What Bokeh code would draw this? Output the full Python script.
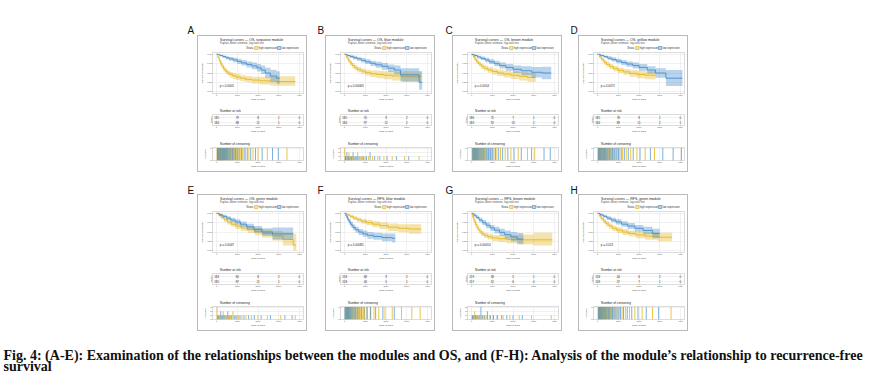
from bokeh.plotting import figure
from bokeh.layouts import column, row
from bokeh.models import Spacer, Range1d, Label, NumeralTickFormatter, FixedTicker
from bokeh.embed import file_html
from bokeh.resources import INLINE
from bokeh.core.properties import value

# ---------------- data ----------------
LETTERS_TOP = ["A", "B", "C", "D"]
LETTERS_BOT = ["E", "F", "G", "H"]
GROUPS = ["high expression", "low expression"]
TIME_TICKS = [0, 1000, 2000, 3000, 4000]
SURV_TICKS = [0, 0.25, 0.5, 0.75, 1.0]
TITLES = ["Survival curves \u2014 OS, turquoise module",
          "Survival curves \u2014 OS, blue module",
          "Survival curves \u2014 OS, brown module",
          "Survival curves \u2014 OS, yellow module",
          "Survival curves \u2014 OS, green module",
          "Survival curves \u2014 RFS, blue module",
          "Survival curves \u2014 RFS, brown module",
          "Survival curves \u2014 RFS, green module"]
SUBTITLE = "Kaplan\u2013Meier estimate, log-rank test"
PVALS = ["p < 0.0001", "p = 0.00063", "p = 0.0014", "p = 0.0071",
         "p = 0.0047", "p = 0.00085", "p = 0.00014", "p = 0.021"]
CAPTION_1 = ("Fig. 4: (A-E): Examination of the relationships between the modules and OS, "
             "and (F-H): Analysis of the module\u2019s relationship to recurrence-free")
CAPTION_2 = "survival"

A_hi_t = [0, 60, 120, 180, 250, 330, 420, 520, 640, 780, 950, 1150, 1400, 1700, 2100, 2600, 3800]
A_hi_s = [1.00, 0.92, 0.84, 0.76, 0.68, 0.61, 0.55, 0.50, 0.46, 0.42, 0.39, 0.36, 0.33, 0.31, 0.29, 0.27, 0.27]
A_hi_l = [1.00, 0.88, 0.79, 0.70, 0.62, 0.54, 0.48, 0.43, 0.38, 0.34, 0.31, 0.28, 0.25, 0.22, 0.19, 0.16, 0.16]
A_hi_u = [1.00, 0.96, 0.90, 0.82, 0.75, 0.68, 0.62, 0.57, 0.53, 0.50, 0.47, 0.44, 0.42, 0.40, 0.40, 0.41, 0.41]
A_lo_t = [0, 150, 300, 450, 600, 800, 1000, 1200, 1450, 1700, 1950, 2150, 2350, 2600, 2900, 3050]
A_lo_s = [1.00, 0.97, 0.94, 0.91, 0.88, 0.85, 0.81, 0.77, 0.73, 0.69, 0.64, 0.58, 0.50, 0.42, 0.36, 0.36]
A_lo_l = [1.00, 0.94, 0.90, 0.86, 0.83, 0.79, 0.74, 0.70, 0.65, 0.60, 0.54, 0.47, 0.37, 0.28, 0.21, 0.21]
A_lo_u = [1.00, 0.99, 0.97, 0.95, 0.93, 0.91, 0.88, 0.85, 0.81, 0.78, 0.74, 0.70, 0.64, 0.59, 0.55, 0.55]

B_hi_t = [0, 80, 170, 260, 360, 480, 620, 800, 1000, 1250, 1550, 1900, 2300, 2800, 3700]
B_hi_s = [1.00, 0.92, 0.84, 0.77, 0.70, 0.64, 0.59, 0.55, 0.51, 0.48, 0.46, 0.44, 0.42, 0.40, 0.40]
B_hi_l = [1.00, 0.88, 0.79, 0.71, 0.63, 0.57, 0.52, 0.47, 0.43, 0.39, 0.36, 0.33, 0.30, 0.26, 0.26]
B_hi_u = [1.00, 0.96, 0.90, 0.83, 0.77, 0.71, 0.66, 0.62, 0.59, 0.57, 0.56, 0.55, 0.54, 0.55, 0.55]
B_lo_t = [0, 120, 260, 420, 600, 800, 1000, 1250, 1500, 1800, 2100, 2400, 2700, 3600, 3750]
B_lo_s = [1.00, 0.97, 0.94, 0.91, 0.88, 0.84, 0.80, 0.76, 0.72, 0.68, 0.63, 0.58, 0.45, 0.25, 0.25]
B_lo_l = [1.00, 0.94, 0.90, 0.86, 0.83, 0.78, 0.74, 0.69, 0.64, 0.59, 0.53, 0.46, 0.27, 0.05, 0.05]
B_lo_u = [1.00, 0.99, 0.98, 0.96, 0.93, 0.90, 0.87, 0.83, 0.80, 0.77, 0.73, 0.70, 0.63, 0.55, 0.55]

C_hi_t = [0, 70, 150, 240, 340, 460, 600, 780, 1000, 1250, 1550, 1900, 2300, 2700, 3100]
C_hi_s = [1.00, 0.94, 0.87, 0.80, 0.74, 0.68, 0.63, 0.58, 0.54, 0.50, 0.47, 0.44, 0.41, 0.38, 0.38]
C_hi_l = [1.00, 0.90, 0.82, 0.74, 0.68, 0.61, 0.56, 0.51, 0.46, 0.42, 0.38, 0.34, 0.30, 0.26, 0.26]
C_hi_u = [1.00, 0.98, 0.92, 0.86, 0.80, 0.75, 0.70, 0.66, 0.62, 0.59, 0.56, 0.54, 0.52, 0.50, 0.50]
C_lo_t = [0, 130, 280, 450, 650, 850, 1100, 1350, 1650, 2000, 2400, 2900, 3400, 3850]
C_lo_s = [1.00, 0.97, 0.93, 0.89, 0.85, 0.80, 0.75, 0.70, 0.65, 0.60, 0.56, 0.52, 0.50, 0.50]
C_lo_l = [1.00, 0.94, 0.89, 0.84, 0.79, 0.74, 0.68, 0.62, 0.56, 0.50, 0.44, 0.38, 0.33, 0.33]
C_lo_u = [1.00, 0.99, 0.97, 0.94, 0.91, 0.87, 0.83, 0.78, 0.74, 0.70, 0.68, 0.66, 0.67, 0.67]

D_hi_t = [0, 90, 190, 300, 430, 580, 760, 980, 1250, 1550, 1900, 2300, 2800]
D_hi_s = [1.00, 0.93, 0.86, 0.79, 0.73, 0.67, 0.62, 0.57, 0.53, 0.49, 0.46, 0.44, 0.44]
D_hi_l = [1.00, 0.89, 0.81, 0.73, 0.66, 0.60, 0.55, 0.50, 0.45, 0.40, 0.36, 0.33, 0.33]
D_hi_u = [1.00, 0.97, 0.91, 0.85, 0.80, 0.74, 0.69, 0.64, 0.61, 0.58, 0.56, 0.55, 0.55]
D_lo_t = [0, 140, 300, 480, 680, 900, 1150, 1400, 1700, 2000, 2400, 2800, 3300, 4100]
D_lo_s = [1.00, 0.97, 0.94, 0.90, 0.86, 0.82, 0.78, 0.74, 0.70, 0.65, 0.58, 0.50, 0.36, 0.36]
D_lo_l = [1.00, 0.94, 0.90, 0.85, 0.81, 0.76, 0.71, 0.67, 0.62, 0.56, 0.48, 0.37, 0.15, 0.15]
D_lo_u = [1.00, 0.99, 0.97, 0.95, 0.92, 0.88, 0.85, 0.81, 0.78, 0.74, 0.68, 0.63, 0.58, 0.58]

E_hi_t = [0, 100, 220, 360, 520, 700, 920, 1180, 1500, 1850, 2200, 2700, 3200, 3700, 3850]
E_hi_s = [1.00, 0.95, 0.89, 0.83, 0.77, 0.71, 0.66, 0.61, 0.56, 0.51, 0.46, 0.40, 0.30, 0.15, 0.15]
E_hi_l = [1.00, 0.91, 0.84, 0.77, 0.70, 0.64, 0.58, 0.53, 0.47, 0.41, 0.35, 0.27, 0.14, 0.00, 0.00]
E_hi_u = [1.00, 0.99, 0.94, 0.89, 0.83, 0.78, 0.73, 0.69, 0.65, 0.61, 0.57, 0.53, 0.48, 0.45, 0.45]
E_lo_t = [0, 140, 300, 480, 680, 900, 1150, 1450, 1800, 2200, 2700, 3700]
E_lo_s = [1.00, 0.96, 0.92, 0.87, 0.82, 0.77, 0.71, 0.64, 0.57, 0.50, 0.45, 0.45]
E_lo_l = [1.00, 0.93, 0.88, 0.82, 0.76, 0.70, 0.64, 0.56, 0.48, 0.40, 0.30, 0.30]
E_lo_u = [1.00, 0.99, 0.96, 0.92, 0.88, 0.84, 0.78, 0.72, 0.66, 0.60, 0.62, 0.62]

F_hi_t = [0, 120, 260, 420, 600, 800, 1050, 1350, 1700, 2100, 2600, 3100, 3700]
F_hi_s = [1.00, 0.96, 0.92, 0.87, 0.83, 0.79, 0.75, 0.71, 0.67, 0.63, 0.60, 0.58, 0.58]
F_hi_l = [1.00, 0.93, 0.87, 0.82, 0.77, 0.72, 0.68, 0.63, 0.58, 0.53, 0.49, 0.45, 0.45]
F_hi_u = [1.00, 0.99, 0.96, 0.92, 0.89, 0.85, 0.82, 0.79, 0.76, 0.73, 0.71, 0.71, 0.71]
F_lo_t = [0, 60, 130, 210, 300, 400, 520, 680, 880, 1100, 1400, 1800, 2300, 2450]
F_lo_s = [1.00, 0.93, 0.85, 0.77, 0.69, 0.62, 0.56, 0.50, 0.45, 0.41, 0.38, 0.35, 0.33, 0.33]
F_lo_l = [1.00, 0.88, 0.79, 0.70, 0.62, 0.55, 0.48, 0.42, 0.37, 0.32, 0.29, 0.25, 0.22, 0.22]
F_lo_u = [1.00, 0.97, 0.91, 0.84, 0.77, 0.70, 0.64, 0.58, 0.54, 0.50, 0.48, 0.46, 0.46, 0.46]

G_hi_t = [0, 50, 110, 180, 260, 350, 460, 600, 780, 1000, 1300, 1700, 2300, 3000, 3900]
G_hi_s = [1.00, 0.90, 0.80, 0.70, 0.61, 0.53, 0.46, 0.41, 0.37, 0.34, 0.32, 0.30, 0.29, 0.29, 0.29]
G_hi_l = [1.00, 0.85, 0.74, 0.63, 0.54, 0.46, 0.39, 0.34, 0.30, 0.26, 0.23, 0.20, 0.17, 0.14, 0.14]
G_hi_u = [1.00, 0.95, 0.86, 0.77, 0.68, 0.60, 0.53, 0.48, 0.45, 0.42, 0.41, 0.41, 0.43, 0.48, 0.48]
G_lo_t = [0, 100, 220, 360, 520, 700, 900, 1100, 1350, 1600, 1900, 2200, 2500]
G_lo_s = [1.00, 0.95, 0.89, 0.82, 0.75, 0.68, 0.61, 0.55, 0.49, 0.43, 0.37, 0.31, 0.31]
G_lo_l = [1.00, 0.91, 0.84, 0.76, 0.68, 0.60, 0.53, 0.46, 0.39, 0.32, 0.25, 0.17, 0.17]
G_lo_u = [1.00, 0.99, 0.94, 0.88, 0.82, 0.76, 0.69, 0.64, 0.59, 0.54, 0.50, 0.47, 0.47]

H_hi_t = [0, 80, 170, 280, 400, 550, 720, 920, 1200, 1500, 1850, 2300, 2900, 3600]
H_hi_s = [1.00, 0.93, 0.86, 0.79, 0.72, 0.66, 0.60, 0.55, 0.50, 0.46, 0.42, 0.39, 0.36, 0.36]
H_hi_l = [1.00, 0.89, 0.81, 0.73, 0.65, 0.59, 0.53, 0.47, 0.42, 0.38, 0.33, 0.29, 0.25, 0.25]
H_hi_u = [1.00, 0.97, 0.91, 0.85, 0.79, 0.73, 0.67, 0.62, 0.58, 0.54, 0.51, 0.49, 0.48, 0.48]
H_lo_t = [0, 130, 280, 450, 650, 880, 1150, 1450, 1800, 2200, 2650, 3000]
H_lo_s = [1.00, 0.96, 0.92, 0.87, 0.82, 0.77, 0.71, 0.66, 0.60, 0.54, 0.46, 0.46]
H_lo_l = [1.00, 0.93, 0.88, 0.82, 0.76, 0.70, 0.64, 0.58, 0.51, 0.44, 0.33, 0.33]
H_lo_u = [1.00, 0.99, 0.96, 0.92, 0.88, 0.84, 0.79, 0.74, 0.69, 0.64, 0.59, 0.59]

# number at risk at 0, 1000, 2000, 3000, 4000 days
A_risk_hi = [185, 79, 8, 1, 0]
A_risk_lo = [184, 88, 11, 1, 0]
B_risk_hi = [185, 70, 9, 2, 0]
B_risk_lo = [184, 97, 12, 2, 0]
C_risk_hi = [186, 75, 7, 1, 0]
C_risk_lo = [183, 92, 13, 2, 0]
D_risk_hi = [185, 78, 8, 1, 0]
D_risk_lo = [184, 89, 11, 2, 1]
E_risk_hi = [184, 80, 8, 2, 0]
E_risk_lo = [185, 87, 11, 1, 0]
F_risk_hi = [158, 68, 9, 2, 0]
F_risk_lo = [158, 43, 5, 1, 0]
G_risk_hi = [159, 38, 5, 1, 0]
G_risk_lo = [157, 52, 6, 0, 0]
H_risk_hi = [158, 44, 6, 2, 0]
H_risk_lo = [158, 57, 7, 1, 0]

# censoring times and counts
A_chi_t = [20, 60, 100, 140, 185, 225, 270, 310, 355, 400, 450, 500, 555, 610, 670, 735, 800, 870, 950, 1040, 1140, 1260, 1400, 1560, 1760, 2000, 2450, 3400]
A_chi_n = [1, 1, 1, 1, 1, 1, 1, 1, 1, 1, 1, 1, 1, 1, 1, 1, 1, 1, 1, 1, 1, 1, 1, 1, 1, 1, 1, 1]
A_clo_t = [40, 80, 120, 165, 205, 250, 290, 335, 380, 425, 475, 530, 585, 640, 700, 765, 835, 910, 995, 1090, 1200, 1330, 1480, 1650, 1880, 2200, 2700, 2980]
A_clo_n = [1, 1, 1, 1, 1, 1, 1, 1, 1, 1, 1, 1, 1, 1, 1, 1, 1, 1, 1, 1, 1, 1, 1, 1, 1, 1, 1, 1]
B_chi_t = [10, 60, 140, 210, 290, 370, 450, 540, 630, 740, 860, 990, 1150, 1350, 1600, 1900, 2300, 2900, 3600]
B_chi_n = [3, 1, 1, 2, 1, 1, 1, 1, 2, 1, 1, 1, 1, 1, 1, 1, 1, 1, 1]
B_clo_t = [40, 110, 180, 250, 330, 410, 500, 590, 690, 800, 920, 1060, 1230, 1450, 1700, 2050, 2500, 3100]
B_clo_n = [1, 2, 1, 1, 1, 2, 1, 1, 1, 1, 1, 1, 2, 1, 1, 1, 1, 1]
C_chi_t = [25, 70, 115, 160, 210, 260, 310, 365, 420, 480, 545, 615, 690, 770, 860, 960, 1080, 1220, 1400, 1620, 1900, 2250, 2700, 3050]
C_chi_n = [1, 1, 1, 1, 1, 1, 1, 1, 1, 1, 1, 1, 1, 1, 1, 1, 1, 1, 1, 1, 1, 1, 1, 1]
C_clo_t = [50, 95, 140, 185, 235, 285, 340, 395, 450, 515, 580, 650, 730, 815, 910, 1020, 1150, 1310, 1500, 1750, 2050, 2400, 2900, 3500, 3800]
C_clo_n = [1, 1, 1, 1, 1, 1, 1, 1, 1, 1, 1, 1, 1, 1, 1, 1, 1, 1, 1, 1, 1, 1, 1, 1, 1]
D_chi_t = [15, 60, 105, 150, 200, 250, 300, 355, 410, 470, 535, 605, 680, 760, 850, 950, 1070, 1210, 1380, 1600, 1900, 2300, 2750]
D_chi_n = [1, 1, 1, 1, 1, 1, 1, 1, 1, 1, 1, 1, 1, 1, 1, 1, 1, 1, 1, 1, 1, 1, 1]
D_clo_t = [40, 85, 130, 175, 225, 275, 330, 385, 440, 500, 570, 640, 720, 805, 900, 1010, 1140, 1290, 1480, 1720, 2050, 2550, 3150, 3650, 4050]
D_clo_n = [1, 1, 1, 1, 1, 1, 1, 1, 1, 1, 1, 1, 1, 1, 1, 1, 1, 1, 1, 1, 1, 1, 1, 1, 1]
E_chi_t = [20, 90, 160, 240, 320, 400, 490, 580, 680, 790, 910, 1050, 1220, 1420, 1680, 2000, 2450, 3100, 3800]
E_chi_n = [3, 1, 1, 1, 2, 1, 1, 1, 1, 2, 1, 1, 1, 1, 1, 1, 1, 1, 1]
E_clo_t = [50, 120, 200, 280, 360, 450, 540, 630, 730, 850, 980, 1130, 1320, 1550, 1820, 2150, 2600, 3300, 3650]
E_clo_n = [1, 1, 2, 1, 1, 1, 2, 1, 1, 1, 1, 1, 1, 1, 1, 1, 1, 1, 1]
F_chi_t = [30, 80, 135, 190, 250, 310, 375, 440, 510, 585, 665, 755, 850, 960, 1090, 1240, 1420, 1650, 1950, 2300, 2750, 3250, 3650]
F_chi_n = [1, 1, 1, 1, 1, 1, 1, 1, 1, 1, 1, 1, 1, 1, 1, 1, 1, 1, 1, 1, 1, 1, 1]
F_clo_t = [15, 55, 95, 140, 185, 235, 285, 340, 400, 465, 535, 615, 705, 810, 930, 1080, 1260, 1500, 1850, 2400]
F_clo_n = [1, 1, 1, 1, 1, 1, 1, 1, 1, 1, 1, 1, 1, 1, 1, 1, 1, 1, 1, 1]
G_chi_t = [20, 80, 150, 230, 310, 400, 500, 610, 740, 890, 1060, 1260, 1520, 1850, 2300, 2900, 3850]
G_chi_n = [1, 1, 2, 1, 1, 1, 1, 1, 1, 1, 1, 1, 1, 1, 1, 1, 1]
G_clo_t = [45, 110, 190, 270, 360, 450, 540, 640, 760, 900, 1050, 1230, 1450, 1700, 2000, 2450]
G_clo_n = [1, 1, 1, 1, 1, 3, 1, 1, 2, 1, 1, 1, 1, 1, 1, 1]
H_chi_t = [25, 65, 105, 145, 190, 235, 280, 330, 380, 435, 490, 550, 615, 685, 760, 845, 940, 1050, 1180, 1340, 1540, 1800, 2150, 2650, 3550]
H_chi_n = [1, 1, 1, 1, 1, 1, 1, 1, 1, 1, 1, 1, 1, 1, 1, 1, 1, 1, 1, 1, 1, 1, 1, 1, 1]
H_clo_t = [45, 85, 125, 165, 210, 255, 305, 355, 405, 460, 520, 580, 650, 720, 800, 890, 990, 1110, 1250, 1430, 1650, 1950, 2350, 2950]
H_clo_n = [1, 1, 1, 1, 1, 1, 1, 1, 1, 1, 1, 1, 1, 1, 1, 1, 1, 1, 1, 1, 1, 1, 1, 1]
CENS_MAX = [1, 3, 1, 1, 3, 1, 3, 1]

# tables built from the lists above
HI = [(A_hi_t, A_hi_s, A_hi_l, A_hi_u), (B_hi_t, B_hi_s, B_hi_l, B_hi_u),
      (C_hi_t, C_hi_s, C_hi_l, C_hi_u), (D_hi_t, D_hi_s, D_hi_l, D_hi_u),
      (E_hi_t, E_hi_s, E_hi_l, E_hi_u), (F_hi_t, F_hi_s, F_hi_l, F_hi_u),
      (G_hi_t, G_hi_s, G_hi_l, G_hi_u), (H_hi_t, H_hi_s, H_hi_l, H_hi_u)]
LO = [(A_lo_t, A_lo_s, A_lo_l, A_lo_u), (B_lo_t, B_lo_s, B_lo_l, B_lo_u),
      (C_lo_t, C_lo_s, C_lo_l, C_lo_u), (D_lo_t, D_lo_s, D_lo_l, D_lo_u),
      (E_lo_t, E_lo_s, E_lo_l, E_lo_u), (F_lo_t, F_lo_s, F_lo_l, F_lo_u),
      (G_lo_t, G_lo_s, G_lo_l, G_lo_u), (H_lo_t, H_lo_s, H_lo_l, H_lo_u)]
RISK = [(A_risk_hi, A_risk_lo), (B_risk_hi, B_risk_lo), (C_risk_hi, C_risk_lo),
        (D_risk_hi, D_risk_lo), (E_risk_hi, E_risk_lo), (F_risk_hi, F_risk_lo),
        (G_risk_hi, G_risk_lo), (H_risk_hi, H_risk_lo)]
CENS = [(A_chi_t, A_chi_n, A_clo_t, A_clo_n), (B_chi_t, B_chi_n, B_clo_t, B_clo_n),
        (C_chi_t, C_chi_n, C_clo_t, C_clo_n), (D_chi_t, D_chi_n, D_clo_t, D_clo_n),
        (E_chi_t, E_chi_n, E_clo_t, E_clo_n), (F_chi_t, F_chi_n, F_clo_t, F_clo_n),
        (G_chi_t, G_chi_n, G_clo_t, G_clo_n), (H_chi_t, H_chi_n, H_clo_t, H_clo_n)]

# ---------------- style / layout ----------------
FONT = "Liberation Sans"
YEL = "#E2B210"
BLU = "#3A86C8"
PW = 108
LEFT, RIGHT = 12, 3
XR = (-200, 4200)
COL_X = [197, 325, 452, 578]
LETTER_X = [187, 317, 445, 570]


def plain(w, h):
    p = figure(width=w, height=h, x_range=Range1d(0, w), y_range=Range1d(0, h),
               title=None, x_axis_location=None, y_axis_location=None,
               toolbar_location=None, output_backend="svg", min_border=0)
    p.grid.visible = False
    p.outline_line_color = None
    return p


def texts(p, xs, ys_from_top, strs, size, color):
    h = p.height
    p.text(x=xs, y=[h - v for v in ys_from_top], text=strs,
           text_font=value(FONT), text_font_size=size, text_color=color,
           text_baseline="middle")


def base(h, top, bot, yr):
    p = figure(width=PW, height=h, x_range=Range1d(*XR), y_range=Range1d(*yr),
               title=None, toolbar_location=None, output_backend="svg",
               min_border_top=top, min_border_bottom=bot,
               min_border_left=LEFT, min_border_right=RIGHT)
    p.outline_line_color = "#c4c4c4"
    p.outline_line_width = 0.6
    p.grid.grid_line_color = "#e2e2e2"
    p.grid.grid_line_width = 0.5
    p.xaxis.ticker = TIME_TICKS
    for ax in p.axis:
        ax.major_label_text_font_size = "2.2px"
        ax.major_label_text_color = "#555555"
        ax.major_label_text_font = FONT
        ax.axis_label_text_font_size = "2.5px"
        ax.axis_label_text_font = FONT
        ax.axis_label_text_font_style = "normal"
        ax.axis_label_text_color = "#444444"
        ax.axis_label_standoff = 0
        ax.major_label_standoff = 0
        ax.major_tick_in = 0
        ax.major_tick_out = 1
        ax.minor_tick_in = 0
        ax.minor_tick_out = 0
        ax.major_tick_line_color = "#aaaaaa"
        ax.major_tick_line_width = 0.5
        ax.axis_line_color = None
    p.xaxis.axis_label = "Time in days"
    return p


def km_header(i):
    p = plain(PW, 15)
    texts(p, [9], [3.6], [TITLES[i]], "3.5px", "#222222")
    texts(p, [9], [7], [SUBTITLE], "2.7px", "#555555")
    texts(p, [40, 55, 82], [11.5, 11.5, 11.5], ["Strata"] + GROUPS, "2.6px", "#333333")
    # legend keys
    p.rect(x=[52, 79], y=[15 - 11.5, 15 - 11.5], width=4, height=3,
           fill_color=[YEL, BLU], fill_alpha=0.36, line_color=[YEL, BLU], line_width=0.6)
    return p


def km_plot(i):
    p = base(53, 1, 7, (-0.05, 1.05))
    p.yaxis.ticker = SURV_TICKS
    p.yaxis.formatter = NumeralTickFormatter(format="0.00")
    p.yaxis.axis_label = "Survival probability"
    for (t, s, lo, up), c in ((HI[i], YEL), (LO[i], BLU)):
        p.varea_step(x=t, y1=lo, y2=up, step_mode="after",
                     fill_color=c, fill_alpha=0.36)
        p.step(x=t, y=s, mode="after", line_color=c, line_width=0.8)
    p.add_layout(Label(x=150, y=0.15, text=PVALS[i], text_font=FONT,
                       text_font_size="3px", text_color="#222222",
                       text_baseline="middle"))
    return p


def sub_header(h, title, sub, y1, y2):
    p = plain(PW, h)
    texts(p, [9], [y1], [title], "3.2px", "#222222")
    texts(p, [9], [y2], [sub], "2.3px", "#666666")
    return p


def risk_plot(i):
    p = base(23, 1, 7, (0.4, 2.6))
    p.yaxis.ticker = []
    p.ygrid.ticker = FixedTicker(ticks=[1, 2])
    p.yaxis.axis_label = "Strata"
    hi, lo = RISK[i]
    p.text(x=TIME_TICKS, y=[2] * len(hi), text=[str(v) for v in hi],
           text_font=value(FONT), text_font_size="2.9px", text_color="#333333",
           text_align="center", text_baseline="middle")
    p.text(x=TIME_TICKS, y=[1] * len(lo), text=[str(v) for v in lo],
           text_font=value(FONT), text_font_size="2.9px", text_color="#333333",
           text_align="center", text_baseline="middle")
    return p


def cens_plot(i):
    m = CENS_MAX[i]
    p = base(25, 1, 6, (0, m * 1.05))
    p.yaxis.ticker = list(range(0, m + 1))
    p.yaxis.axis_label = "n.censor"
    th, nh, tl, nl = CENS[i]
    p.vbar(x=th, top=nh, width=45, fill_color=YEL, fill_alpha=0.8, line_color=None)
    p.vbar(x=tl, top=nl, width=45, fill_color=BLU, fill_alpha=0.7, line_color=None)
    return p


def panel(i):
    return column(km_header(i), km_plot(i),
                  sub_header(9, "Number at risk", "n at the start of each interval", 3.4, 6.4),
                  risk_plot(i),
                  sub_header(10, "Number of censoring", "per time point", 5.6, 8.4),
                  cens_plot(i), spacing=0,
                  styles={"border": "1px solid #b9b9b9", "background": "white"})


def letters(h, yc, names):
    p = plain(880, h)
    p.text(x=LETTER_X, y=[yc] * len(names), text=names, text_font=value(FONT),
           text_font_size="10px", text_color="#111111", text_baseline="middle")
    return p


def panel_row(start):
    kids = []
    x = 0
    for k in range(4):
        kids.append(Spacer(width=COL_X[k] - x, height=10))
        kids.append(panel(start + k))
        x = COL_X[k] + PW + 2
    return row(*kids, spacing=0)


cap = plain(880, 45)
cap.text(x=[3, 3], y=[21, 10], text=[CAPTION_1, CAPTION_2],
         text_font=value("Liberation Serif"), text_font_style="bold",
         text_font_size="14px", text_color="#111111", text_baseline="alphabetic")

page = column(letters(35, 5, LETTERS_TOP), panel_row(0),
              letters(22, 4.5, LETTERS_BOT), panel_row(4), cap, spacing=0)

open("out.html", "w").write(file_html(page, INLINE))
